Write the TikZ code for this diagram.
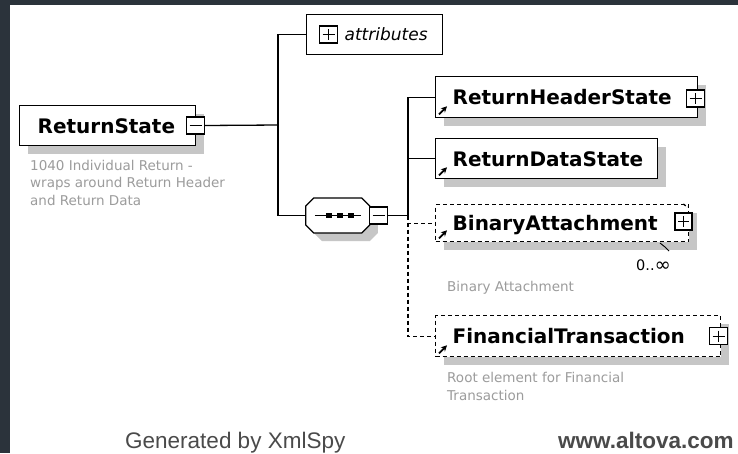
\documentclass[tikz,border=0pt]{standalone}
\usepackage{fontspec}
\usepackage{graphicx}
\setmainfont{DejaVu Sans}
\newfontfamily\footfont{Liberation Sans}
\usetikzlibrary{arrows.meta,shadows}
\definecolor{bgdark}{HTML}{2B333B}
\definecolor{shadowgray}{HTML}{C6C6C6}
\definecolor{descgray}{HTML}{9C9C9C}
\definecolor{footgray}{HTML}{4A4A4A}
\begin{document}
\begin{tikzpicture}[x=1pt,y=-1pt,
  shadowed/.style={drop shadow={shadow xshift=8pt,shadow yshift=-8pt,fill=shadowgray,opacity=1}},
  elem/.style={draw,line width=1.3pt,fill=white,shadowed,inner sep=0pt,
    align=left,font=\fontsize{20}{24}\selectfont\bfseries,
    text height=15pt,text depth=0pt,anchor=north west},
  optelem/.style={elem,dash pattern=on 4pt off 3pt},
  pm/.style={draw,line width=1.1pt,fill=white,minimum width=18pt,minimum height=17pt,inner sep=0pt},
  minusbox/.style={pm,path picture={\draw[line width=1pt]
      ([xshift=3pt]path picture bounding box.west) -- ([xshift=-3pt]path picture bounding box.east);}},
  plusbox/.style={pm,path picture={\draw[line width=1pt]
      ([xshift=3pt]path picture bounding box.west) -- ([xshift=-3pt]path picture bounding box.east)
      ([yshift=-3pt]path picture bounding box.north) -- ([yshift=3pt]path picture bounding box.south);}},
  conn/.style={line width=1.3pt},
  optconn/.style={line width=1.3pt,dash pattern=on 4pt off 3pt},
  refarrow/.style={line width=1.8pt,-{Stealth[length=6pt,width=6pt]}},
  desc/.style={font=\fontsize{13.5}{17.5}\selectfont,text=descgray,anchor=base west,inner sep=0pt},
  foot/.style={font=\footfont\fontsize{22.5}{26}\selectfont,text=footgray,anchor=base west,inner sep=0pt}
]
\useasboundingbox (0,0) rectangle (738,453);
\fill[bgdark] (0,0) rectangle (738,453);
\fill[white] (10,5) rectangle (738,453);

% root element
\node[elem,minimum width=176pt,text width=176pt,minimum height=40pt] (rs) at (19,105) {\hspace*{18pt}ReturnState};
\node[minusbox] (rsm) at (195.5,125.5) {};
\node[desc] (rsd1) at (30,170) {1040 Individual Return -};
\node[desc] (rsd2) at (30,187.5) {wraps around Return Header};
\node[desc] (rsd3) at (30,205) {and Return Data};

% attributes
\node[draw,line width=1.3pt,fill=white,inner sep=0pt,minimum width=136pt,minimum height=40pt,
  text width=136pt,align=left,anchor=north west,font=\fontsize{17}{20}\selectfont\itshape,
  text height=12.5pt,text depth=0pt] (attr) at (306,14) {\hspace*{38pt}attributes};
\node[plusbox] (attrp) at (328.5,34.5) {};

% sequence compositor
\node[minimum width=64pt,minimum height=35pt,inner sep=0pt] (seq) at (338,215.5) {};
\fill[shadowgray] ([shift={(8,8)}]seq.west) ++(0,-9.5) -- ++(8,-8) -- ++(48,0) -- ++(8,8) -- ++(0,19) -- ++(-8,8) -- ++(-48,0) -- ++(-8,-8) -- cycle;
\draw[line width=1.3pt,fill=white] (seq.west) ++(0,-9.5) -- ++(8,-8) -- ++(48,0) -- ++(8,8) -- ++(0,19) -- ++(-8,8) -- ++(-48,0) -- ++(-8,-8) -- cycle;
\draw[line width=1.2pt] ([xshift=9pt]seq.west) -- ([xshift=-9pt]seq.east);
\foreach \dx in {-9,2,13}{\fill ([xshift=\dx pt]seq.center) ++(-2.8,-2.2) rectangle ++(5.6,4.4);}
\node[minusbox] (seqm) at (378.5,215.5) {};

% children
\node[elem,minimum width=262pt,text width=262pt,minimum height=41pt] (rhs) at (435,76) {\hspace*{17pt}ReturnHeaderState};
\node[plusbox] (rhsp) at (695.5,98.5) {};
\node[elem,minimum width=222pt,text width=222pt,minimum height=40pt] (rds) at (435,138) {\hspace*{17pt}ReturnDataState};
\node[optelem,minimum width=253pt,text width=253pt,minimum height=37pt] (ba) at (435,204) {\hspace*{17pt}BinaryAttachment};
\draw[line width=1.3pt,dash pattern=on 3pt off 2pt] ([xshift=-6pt]ba.north east) -- ++(4,3);
\node[plusbox,minimum width=17pt] (bap) at (683.5,221.5) {};
\node[optelem,minimum width=285pt,text width=285pt,minimum height=41pt] (ft) at (435,315) {\hspace*{17pt}FinancialTransaction};
\node[plusbox] (ftp) at (718.5,336) {};

% reference arrows
\foreach \n in {rhs,rds,ba,ft}{\draw[refarrow] ([xshift=4pt,yshift=4pt]\n.south west) -- ++(8,-8);}

% multiplicity
\draw[line width=0.9pt] (660,243) -- (665,247) -- (669,251);
\node[font=\fontsize{14.5}{17}\selectfont,anchor=base west,inner sep=0pt] (bam) at (636,270) {0..\raisebox{-1.3pt}{\scalebox{1.35}{∞}}};
\node[desc] (bad) at (447,291) {Binary Attachment};
\node[desc] (ftd1) at (447,382) {Root element for Financial};
\node[desc] (ftd2) at (447,400) {Transaction};

% connectors
\coordinate (j1) at (278,125);
\coordinate (j2) at (408,215.5);
\draw[conn] (rsm.east) -- (j1);
\draw[conn] (j1) |- (attr.west);
\draw[conn] (j1) |- (seq.west);
\draw[conn] (seqm.east) -- (j2);
\draw[conn] (j2) |- (rhs.west);
\draw[conn] (j2) |- (rds.west);
\draw[optconn] (j2) |- (ba.west);
\draw[optconn] (j2) |- (ft.west);

% footer
\node[foot] (gen) at (125,448) {Generated by XmlSpy};
\node[foot,font=\footfont\fontsize{22.5}{26}\selectfont\bfseries] (alt) at (558,448) {www.altova.com};
\end{tikzpicture}
\end{document}
